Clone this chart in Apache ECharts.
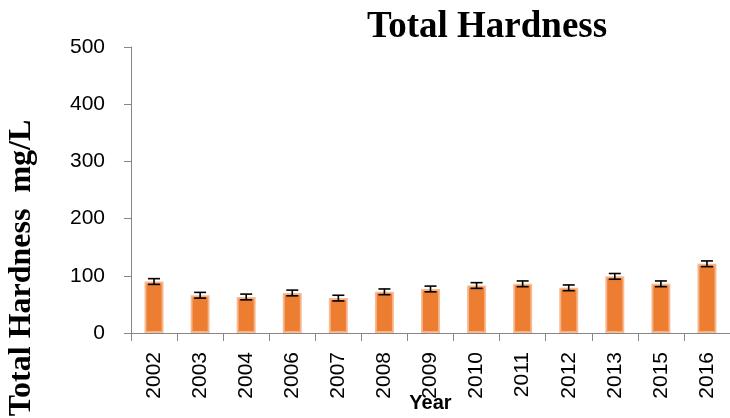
<!DOCTYPE html>
<html>
<head>
<meta charset="utf-8">
<title>Total Hardness</title>
<script src="https://cdn.jsdelivr.net/npm/echarts@6/dist/echarts.min.js"></script>
<style>
  html, body { margin: 0; padding: 0; background: #fff; }
  #chart { width: 730px; height: 418px; }
</style>
</head>
<body>
<div id="chart"></div>
<script>
// 数据
const years = ['2002', '2003', '2004', '2006', '2007', '2008', '2009', '2010', '2011', '2012', '2013', '2015', '2016'];
const hardness = [90, 66, 63, 70, 61, 72, 77, 83, 86, 79, 99, 86, 121];
const errors = [5, 5, 5, 5, 5, 5, 5, 5, 5, 5, 5, 5, 5];
const yTicks = [0, 100, 200, 300, 400, 500];

const axisGray = '#868686';

const chart = echarts.init(document.getElementById('chart'));

const option = {
  animation: false,
  title: {
    text: 'Total Hardness',
    left: 482,
    top: 4,
    textAlign: 'center',
    textStyle: {
      fontFamily: 'Liberation Serif',
      fontWeight: 'bold',
      fontSize: 37,
      color: '#000'
    }
  },
  grid: {
    left: 131,
    right: 0,
    top: 47,
    bottom: 85,
    outerBoundsMode: 'none'
  },
  graphic: [
    {
      type: 'text',
      x: 22,
      y: 268,
      rotation: Math.PI / 2,
      style: {
        text: 'Total Hardness  mg/L',
        fontFamily: 'Liberation Serif',
        fontWeight: 'bold',
        fontSize: 32,
        fill: '#000',
        align: 'center',
        verticalAlign: 'middle'
      }
    }
  ],
  xAxis: {
    type: 'category',
    data: years,
    name: 'Year',
    nameLocation: 'middle',
    nameGap: 60,
    nameMoveOverlap: false,
    nameTextStyle: {
      fontFamily: 'Liberation Sans',
      fontWeight: 'bold',
      fontSize: 20,
      color: '#000'
    },
    axisLine: { lineStyle: { color: axisGray, width: 1 } },
    axisTick: { show: true, length: 8, alignWithLabel: false, lineStyle: { color: axisGray } },
    axisLabel: {
      rotate: 90,
      margin: 19,
      fontFamily: 'Liberation Sans',
      fontSize: 21,
      color: '#000',
      interval: 0
    }
  },
  yAxis: {
    type: 'value',
    min: yTicks[0],
    max: yTicks[yTicks.length - 1],
    interval: 100,
    axisLine: { show: true, lineStyle: { color: axisGray, width: 1 } },
    axisTick: { show: true, length: 7, lineStyle: { color: axisGray } },
    splitLine: { show: false },
    axisLabel: {
      margin: 26,
      fontFamily: 'Liberation Sans',
      fontSize: 21,
      color: '#000'
    }
  },
  series: [
    {
      name: 'Total Hardness',
      type: 'bar',
      data: hardness,
      barWidth: 19,
      itemStyle: {
        color: '#ED7D31',
        borderColor: 'rgba(246, 182, 140, 0.9)',
        borderWidth: 2
      }
    },
    {
      // 误差线
      type: 'custom',
      data: hardness.map((v, i) => [i, v - errors[i], v + errors[i]]),
      z: 10,
      renderItem: function (params, api) {
        const x = api.value(0);
        const low = api.coord([x, api.value(1)]);
        const high = api.coord([x, api.value(2)]);
        const half = 6;
        const style = { stroke: '#000', lineWidth: 1.6 };
        return {
          type: 'group',
          children: [
            { type: 'line', shape: { x1: low[0], y1: low[1], x2: high[0], y2: high[1] }, style: style },
            { type: 'line', shape: { x1: high[0] - half, y1: high[1], x2: high[0] + half, y2: high[1] }, style: style },
            { type: 'line', shape: { x1: low[0] - half, y1: low[1], x2: low[0] + half, y2: low[1] }, style: style }
          ]
        };
      }
    }
  ]
};

chart.setOption(option);
</script>
</body>
</html>
